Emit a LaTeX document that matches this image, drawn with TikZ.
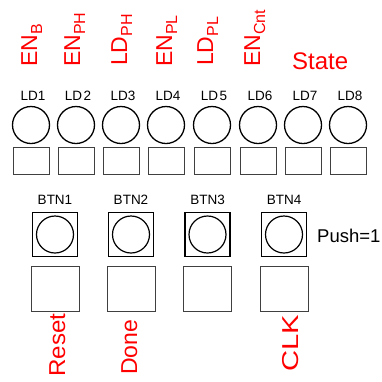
\documentclass[tikz,border=0pt]{standalone}
\usepackage{fontspec}
\setmainfont{Liberation Sans}
\newcommand\sigsub[1]{\raisebox{-5pt}{\fontsize{16}{16}\selectfont #1}}
\tikzset{
  led/.style={circle, draw, line width=1.3pt, minimum size=37pt, inner sep=0pt},
  ledbox/.style={draw=black!75, line width=1pt, minimum width=36pt, minimum height=27pt, inner sep=0pt},
  btnsq/.style={draw, line width=1.5pt, minimum width=45pt, minimum height=44pt, inner sep=0pt},
  btncirc/.style={circle, draw, line width=1.2pt, minimum size=37pt, inner sep=0pt},
  btnbox/.style={draw=black!75, line width=1pt, minimum width=48pt, minimum height=45pt, inner sep=0pt},
  lbl/.style={font=\fontsize{13.5}{14}\selectfont, inner sep=0pt},
  sig/.style={text=red, font=\fontsize{23}{24}\selectfont, rotate=90, anchor=base west, inner sep=0pt},
}
\begin{document}
\begin{tikzpicture}[x=1pt, y=-1pt]
\useasboundingbox (0,0) rectangle (382,381);
% red signal labels (top)
\node[sig] (enb) at (37,67) {EN\sigsub{B}};
\node[sig] (enph) at (80,67) {EN\sigsub{PH}};
\node[sig] (ldph) at (127,66) {LD\sigsub{PH}};
\node[sig] (enpl) at (172,67) {EN\sigsub{PL}};
\node[sig] (ldpl) at (213,66) {LD\sigsub{PL}};
\node[sig] (encnt) at (260,67) {EN\sigsub{Cnt}};
\node[text=red, font=\fontsize{24}{25}\selectfont, anchor=base west, inner sep=0pt] (state) at (292,69) {State};
% LEDs
\foreach \x/\t [count=\i] in {31/LD1, 76/LD\kern1.5pt 2, 121/LD3, 166/LD4, 212/LD\kern1.5pt 5, 258/LD6, 303/LD7, 348/LD8} {
  \node[lbl] (ldl\i) at (\x+2,96) {\t};
  \node[led] (led\i) at (\x,125) {};
  \node[ledbox] (ledbox\i) at (\x,161) {};
}
% buttons
\foreach \x [count=\i] in {55,131,207.5,284} {
  \node[lbl] (btnl\i) at (\x,200) {BTN\i};
  \node[btnsq] (btnsq\i) at (\x,234.5) {};
  \node[btncirc] (btnc\i) at (\x,234.5) {};
  \node[btnbox] (btnbox\i) at (\x,289) {};
}
\node[font=\fontsize{18.5}{19}\selectfont, anchor=base west, inner sep=0pt] (push) at (317,242) {Push=1};
% red signal labels (bottom)
\node[sig] (reset) at (65,377) {\scalebox{1.05}[1]{Reset}};
\node[sig] (done) at (137,375) {Done};
\node[sig] (clk) at (298,372) {\scalebox{1.27}[1]{CLK}};
\end{tikzpicture}
\end{document}
